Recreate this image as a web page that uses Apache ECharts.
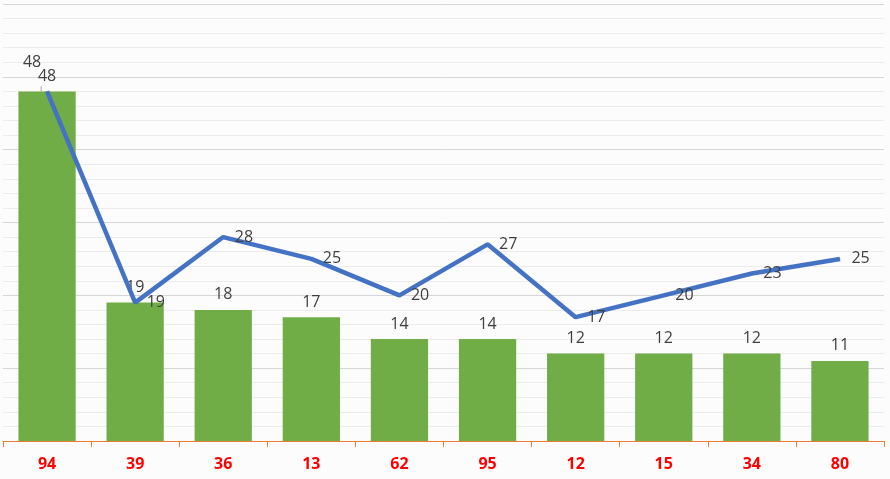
<!DOCTYPE html>
<html><head><meta charset="utf-8">
<script src="https://cdn.jsdelivr.net/npm/echarts@6/dist/echarts.min.js"></script>
<style>html,body{margin:0;padding:0;background:#fcfcfc}#c{width:890px;height:479px}</style>
</head><body><div id="c"></div>
<script>
const categories = ['94','39','36','13','62','95','12','15','34','80'];
const barValues = [48,19,18,17,14,14,12,12,12,11];
const lineValues = [48,19,28,25,20,27,17,20,23,25];

const chart = echarts.init(document.getElementById('c'));
const barData = barValues.map((v,i)=> i===0 ? {value:v,label:{offset:[-15,-14]},labelLine:{show:true,lineStyle:{color:'#a6a6a6',width:1}}} : v);
const lineData = lineValues.map((v,i)=> i===0 ? {value:v,label:{position:'top',distance:6}} : v);
chart.setOption({
  backgroundColor:'#fcfcfc',
  animation:false,
  grid:{left:3,right:6,top:4,bottom:38},
  xAxis:{type:'category',data:categories,
    axisLine:{lineStyle:{color:'#ED7D31',width:1}},
    axisTick:{show:true,length:6,lineStyle:{color:'#ED7D31'}},
    axisLabel:{color:'#ff0000',fontWeight:'bold',fontSize:16,fontFamily:'Open Sans',margin:15}},
  yAxis:{type:'value',min:0,max:60,interval:10,
    axisLabel:{show:false},axisLine:{show:false},axisTick:{show:false},
    splitLine:{lineStyle:{color:'#d6d6d6'}},
    minorTick:{show:false,splitNumber:5},
    minorSplitLine:{show:true,lineStyle:{color:'#ececec'}}},
  series:[
    {type:'bar',data:barData,barCategoryGap:'35%',itemStyle:{color:'#70AD47'},
     label:{show:true,position:'top',distance:7,color:'#404040',fontSize:16,fontFamily:'Open Sans'}},
    {type:'line',data:lineData,showSymbol:true,symbol:'circle',symbolSize:1,
     itemStyle:{color:'#4472C4'},
     lineStyle:{color:'#4472C4',width:4.5},
     label:{show:true,position:'right',distance:11,color:'#404040',fontSize:16,fontFamily:'Open Sans'}}
  ]
});
</script></body></html>
